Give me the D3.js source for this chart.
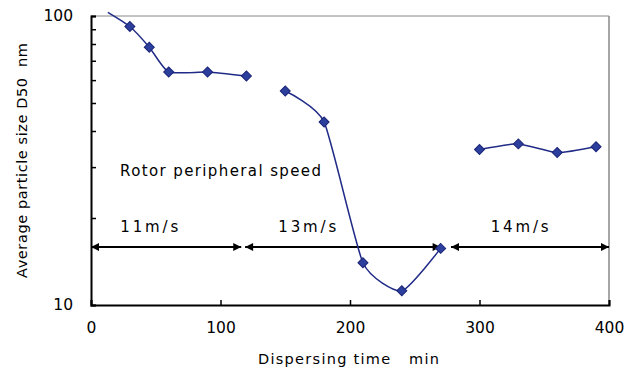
<!DOCTYPE html>
<html lang="en">
<head>
<meta charset="UTF-8">
<title>Average particle size vs dispersing time</title>
<script src="https://cdnjs.cloudflare.com/ajax/libs/d3/7.9.0/d3.min.js"></script>
<style>
  body { margin: 0; background: #fff; }
  svg { display: block; font-family: "DejaVu Sans", sans-serif; }
</style>
</head>
<body>
<svg width="626" height="369"></svg>
<script>
// Data (time in min, D50 in nm), one array per speed segment
const seg11Time = [13, 30, 45, 60, 90, 120];
const seg11Size = [103, 92, 78, 64, 64, 62];
const seg13Time = [150, 180, 210, 240, 270];
const seg13Size = [55, 43, 14, 11.2, 15.7];
const seg14Time = [300, 330, 360, 390];
const seg14Size = [34.5, 36.1, 33.7, 35.3];

// rotor speed ranges (minutes) and where their labels sit
const speedLabels = ["11m/s", "13m/s", "14m/s"];
const speedStart = [0, 119, 278];
const speedEnd = [116, 270, 400];
const speedLabelAt = [45, 167, 331];

const xTicks = [0, 100, 200, 300, 400];
const yTicks = [10, 20, 30, 40, 50, 60, 70, 80, 90, 100];

const svg = d3.select("svg");
const plotLeft = 91, plotRight = 609, plotTop = 16, plotBottom = 305;

const x = d3.scaleLinear().domain([0, 400]).range([plotLeft, plotRight]);
const y = d3.scaleLog().domain([10, 100]).range([plotBottom, plotTop]);

// frame: top and right in grey
svg.append("line").attr("x1", plotLeft).attr("x2", plotRight).attr("y1", plotTop).attr("y2", plotTop)
  .attr("stroke", "#888").attr("stroke-width", 1);
svg.append("line").attr("x1", plotRight).attr("x2", plotRight).attr("y1", plotTop).attr("y2", plotBottom)
  .attr("stroke", "#888").attr("stroke-width", 1.5);

// y axis (log)
const yAxis = svg.append("g").attr("transform", `translate(${plotLeft},0)`)
  .call(d3.axisLeft(y).tickValues(yTicks).tickSize(-5).tickPadding(18)
    .tickFormat(d => (d === 10 || d === 100) ? d : ""));
yAxis.select(".domain").attr("stroke", "#000").attr("stroke-width", 2);
yAxis.selectAll(".tick line").attr("stroke", "#000").attr("stroke-width", 1.5);
yAxis.selectAll("text").attr("font-size", 15.5).attr("font-family", "'DejaVu Sans', sans-serif").attr("fill", "#000");

// x axis
const xAxis = svg.append("g").attr("transform", `translate(0,${plotBottom})`)
  .call(d3.axisBottom(x).tickValues(xTicks).tickSize(-5).tickPadding(17));
xAxis.select(".domain").attr("stroke", "#000").attr("stroke-width", 2);
xAxis.selectAll(".tick line").attr("stroke", "#000").attr("stroke-width", 1.5);
xAxis.selectAll("text").attr("font-size", 15.5).attr("font-family", "'DejaVu Sans', sans-serif").attr("fill", "#000");

// axis titles
svg.append("text").attr("x", 258).attr("y", 364)
  .attr("font-size", 14.5).attr("xml:space", "preserve").attr("textLength", 181)
  .text("Dispersing time   min");
svg.append("text").attr("transform", "translate(27,278) rotate(-90)")
  .attr("font-size", 14.5).attr("xml:space", "preserve").attr("textLength", 235)
  .text("Average particle size D50  nm");

// arrows marking rotor speed ranges
const defs = svg.append("defs");
defs.append("marker").attr("id", "head").attr("viewBox", "0 0 10 10")
  .attr("refX", 10).attr("refY", 5).attr("markerWidth", 5).attr("markerHeight", 4)
  .attr("markerUnits", "strokeWidth").attr("orient", "auto-start-reverse")
  .append("path").attr("d", "M0,0 L10,5 L0,10 Z").attr("fill", "#000");

const arrowY = 247;
speedLabels.forEach((lab, i) => {
  svg.append("line")
    .attr("x1", x(speedStart[i])).attr("x2", x(speedEnd[i]))
    .attr("y1", arrowY).attr("y2", arrowY)
    .attr("stroke", "#000").attr("stroke-width", 2)
    .attr("marker-start", "url(#head)").attr("marker-end", "url(#head)");
  svg.append("text")
    .attr("x", x(speedLabelAt[i]) - 29)
    .attr("y", 232).attr("font-size", 15)
    .attr("textLength", 58)
    .text(lab);
});

svg.append("text").attr("x", 120).attr("y", 176).attr("font-size", 15)
  .attr("textLength", 201).text("Rotor peripheral speed");

// series
const line = d3.line().x(d => x(d[0])).y(d => y(d[1])).curve(d3.curveCardinal.tension(0.45));
const segments = [
  [seg11Time, seg11Size],
  [seg13Time, seg13Size],
  [seg14Time, seg14Size]
];
segments.forEach(([t, s]) => {
  const pts = t.map((v, i) => [v, s[i]]);
  svg.append("path").datum(pts).attr("d", line)
    .attr("fill", "none").attr("stroke", "#1f2b86").attr("stroke-width", 1.5);
  svg.selectAll(null).data(pts.filter(p => p[1] <= 100)).enter().append("path")
    .attr("d", d3.symbol().type(d3.symbolSquare).size(50))
    .attr("transform", d => `translate(${x(d[0])},${y(d[1])}) rotate(45)`)
    .attr("fill", "#2d3f9c").attr("stroke", "#1a2478").attr("stroke-width", 1);
});
</script>
</body>
</html>
